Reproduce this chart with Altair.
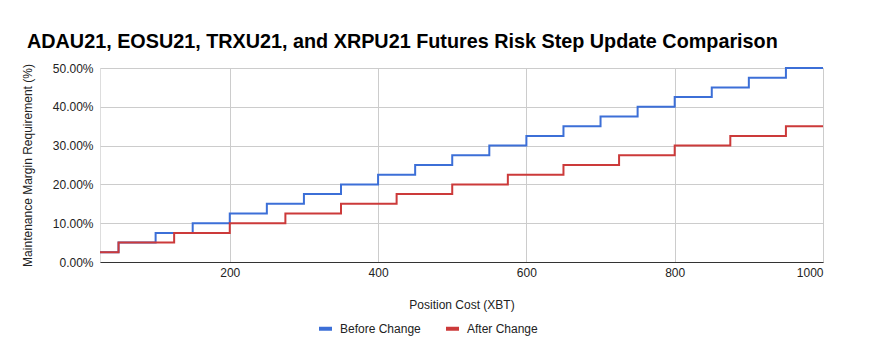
import altair as alt
import pandas as pd

before_x = [25, 50, 100, 150, 200, 250, 300, 350, 400, 450, 500, 550, 600, 650, 700, 750, 800, 850, 900, 950, 1000]
before_y = [0.025, 0.05, 0.075, 0.10, 0.125, 0.15, 0.175, 0.20, 0.225, 0.25, 0.275, 0.30, 0.325, 0.35, 0.375,
            0.40, 0.425, 0.45, 0.475, 0.50, 0.50]
after_x = [25, 50, 125, 200, 275, 350, 425, 500, 575, 650, 725, 800, 875, 950, 1000]
after_y = [0.025, 0.05, 0.075, 0.10, 0.125, 0.15, 0.175, 0.20, 0.225, 0.25, 0.275, 0.30, 0.325, 0.35, 0.35]
series_names = ["Before Change", "After Change"]
series_colors = ["#3c6fd7", "#cc3a3a"]

df_before = pd.DataFrame({"x": before_x, "y": before_y, "s": series_names[0]})
df_after = pd.DataFrame({"x": after_x, "y": after_y, "s": series_names[1]})

FONT = "Liberation Sans"

x_enc = alt.X("x:Q", scale=alt.Scale(domain=[25, 1000], nice=False, zero=False),
              axis=alt.Axis(title="Position Cost (XBT)", values=[200, 400, 600, 800, 1000], format="d",
                            ticks=False, domain=True, domainColor="#333333", domainWidth=1,
                            grid=True, gridColor="#cccccc", labelFontSize=12, labelColor="#222222",
                            labelPadding=5, titleFontSize=12, titleFontWeight="normal", titleColor="#222222",
                            titleY=42, titleBaseline="middle", labelFont=FONT, titleFont=FONT))
y_enc = alt.Y("y:Q", scale=alt.Scale(domain=[0, 0.5], nice=False),
              axis=alt.Axis(title="Maintenance Margin Requirement (%)", format=".2%",
                            values=[0, 0.1, 0.2, 0.3, 0.4, 0.5], ticks=False, domain=False,
                            grid=True, gridColor="#cccccc", labelFontSize=12, labelColor="#222222",
                            labelPadding=7, titleFontSize=12, titleFontWeight="normal", titleColor="#222222",
                            titleX=-73, titleY=97, titleAngle=-90, titleBaseline="middle",
                            labelFont=FONT, titleFont=FONT))
color_enc = alt.Color("s:N", scale=alt.Scale(domain=series_names, range=series_colors),
                      legend=alt.Legend(title=None, orient="none", legendX=217, legendY=252,
                                        direction="horizontal", symbolType="stroke", symbolSize=169,
                                        symbolStrokeWidth=4, labelFontSize=12, labelColor="#222222",
                                        labelFont=FONT, columnPadding=17, labelOffset=6))

l1 = alt.Chart(df_before).mark_line(interpolate="step-after", strokeWidth=2).encode(x=x_enc, y=y_enc, color=color_enc)
l2 = alt.Chart(df_after).mark_line(interpolate="step-after", strokeWidth=2).encode(x=x_enc, y=y_enc, color=color_enc)

chart = alt.layer(l1, l2).properties(
    width=723, height=194,
    title=alt.TitleParams("ADAU21, EOSU21, TRXU21, and XRPU21 Futures Risk Step Update Comparison",
                          anchor="start", frame="group", dx=-73, offset=10, fontSize=19.8, fontWeight="bold",
                          font=FONT, color="#000000"),
    autosize=alt.AutoSizeParams(type="none"),
    padding={"left": 100, "top": 68, "right": 63, "bottom": 89},
).configure_view(stroke=None).configure(background="white")

chart.save("out.html", embed_options={"renderer": "svg", "actions": False})
